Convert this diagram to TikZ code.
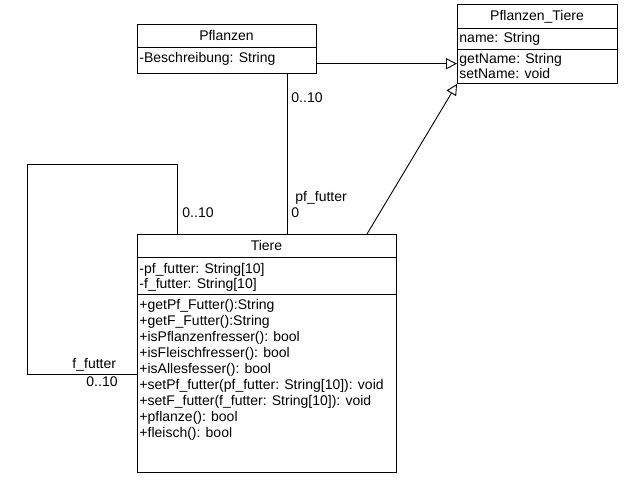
\documentclass[tikz,border=0pt]{standalone}
\usepackage{fontspec}
\setmainfont{Liberation Sans}
\usetikzlibrary{arrows.meta,calc}
\begin{document}
\begin{tikzpicture}[x=1pt,y=-1pt,line width=0.9pt,
  umlbox/.style={draw=black,fill=white,rectangle,inner sep=0pt,anchor=north west},
  txt/.style={inner sep=0pt,anchor=west,font=\fontsize{14}{16}\selectfont,text height=10pt,text depth=2.6pt},
  ctxt/.style={inner sep=0pt,anchor=center,font=\fontsize{14}{16}\selectfont,text height=10pt,text depth=2.6pt},
  inherit/.style={-{Triangle[open,length=11pt,width=11pt,fill=white]}}]
\useasboundingbox (0,0) rectangle (626,479);
% boxes
\node[umlbox,minimum width=179pt,minimum height=48.5pt] (pfl) at (137,24) {};
\node[umlbox,minimum width=160pt,minimum height=79pt] (pt) at (457,4) {};
\node[umlbox,minimum width=259pt,minimum height=238pt] (tiere) at (137,234) {};
% dividers
\draw ($(pfl.north west)+(0,23.5)$) -- ($(pfl.north east)+(0,23.5)$);
\draw ($(pt.north west)+(0,24)$) -- ($(pt.north east)+(0,24)$);
\draw ($(pt.north west)+(0,45)$) -- ($(pt.north east)+(0,45)$);
\draw ($(tiere.north west)+(0,23.5)$) -- ($(tiere.north east)+(0,23.5)$);
\draw ($(tiere.north west)+(0,60)$) -- ($(tiere.north east)+(0,60)$);
% texts Pflanzen
\node[ctxt] (pflh) at (226.5,37) {Pflanzen};
\node[txt] (pfla) at (139,59) {-Beschreibung: String};
% texts Pflanzen_Tiere
\node[ctxt] (pth) at (537,17) {Pflanzen\_Tiere};
\node[txt] (pta) at (459,39) {name: String};
\node[txt] (ptm1) at (459,60) {getName: String};
\node[txt] (ptm2) at (459,75) {setName: void};
% texts Tiere
\node[ctxt] (th) at (266.5,247) {Tiere};
\node[txt] (ta1) at (139,269.5) {-pf\_futter: String[10]};
\node[txt] (ta2) at (139,285) {-f\_futter: String[10]};
\node[txt] (tm1) at (139,306) {+getPf\_Futter():String};
\node[txt] (tm2) at (139,322) {+getF\_Futter():String};
\node[txt] (tm3) at (139,338) {+isPflanzenfresser(): bool};
\node[txt] (tm4) at (139,354) {+isFleischfresser(): bool};
\node[txt] (tm5) at (139,370) {+isAllesfesser(): bool};
\node[txt] (tm6) at (139,386) {+setPf\_futter(pf\_futter: String[10]): void};
\node[txt] (tm7) at (139,402) {+setF\_futter(f\_futter: String[10]): void};
\node[txt] (tm8) at (139,418) {+pflanze(): bool};
\node[txt] (tm9) at (139,434) {+fleisch(): bool};
% inheritance
\draw[inherit] (pfl.east |- 0,63.7) -- (pt.west |- 0,63.7);
\coordinate (tierePt) at (367,234);
\draw[inherit] (tierePt) -- (pt.south west);
% association Pflanzen - Tiere
\draw (287,72.5) -- (287,234);
\node[txt] (l1) at (291,99) {0..10};
\node[txt] (l2) at (295,198) {pf\_futter};
\node[txt] (l3) at (291,214) {0};
% self association
\coordinate (s1) at (177.7,234);
\coordinate (s2) at (27,164);
\coordinate (s3) at (137,374);
\draw (s1) |- (s2) |- (s3);
\node[txt] (l4) at (182,214) {0..10};
\node[txt] (l5) at (72,365) {f\_futter};
\node[txt] (l6) at (86,383) {0..10};
\end{tikzpicture}
\end{document}
